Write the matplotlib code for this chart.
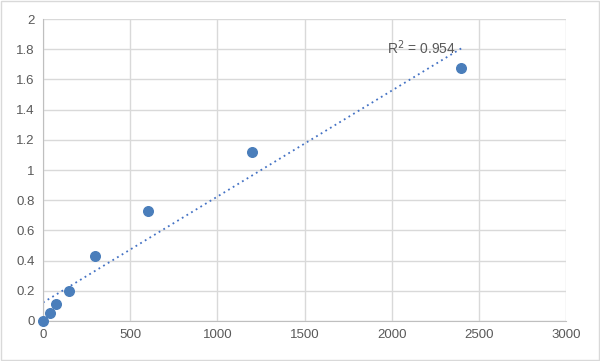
import numpy as np
import matplotlib
matplotlib.use("Agg")
import matplotlib.pyplot as plt

# concentration vs OD readings
conc = [0, 37.5, 75, 150, 300, 600, 1200, 2400]
od = [0.0, 0.053, 0.11, 0.20, 0.43, 0.73, 1.12, 1.675]

plt.rcParams['font.family'] = ['Liberation Sans', 'DejaVu Sans']

fig = plt.figure(figsize=(6, 3.61), dpi=100)
ax = fig.add_axes([0.0717, 0.111, 0.8716, 0.836])

# linear trendline and R^2
x = np.array(conc)
y = np.array(od)
slope, intercept = np.polyfit(x, y, 1)
pred = slope * x + intercept
r2 = 1 - np.sum((y - pred) ** 2) / np.sum((y - y.mean()) ** 2)

xt = np.array([0, 2400])
ax.plot(xt, slope * xt + intercept, ls=(0, (1, 2)), color='#4472C4', lw=1.3, zorder=2)
ax.scatter(conc, od, s=48, color='#4A7EBB', zorder=3, clip_on=False)
ax.text(2370, 1.81, "R$^2$ = %.3f" % r2, ha='right', va='center', fontsize=10, color='#595959')

ax.set_xlim(0, 3000)
ax.set_ylim(0, 2)
ax.set_xticks(np.arange(0, 3001, 500))
ax.set_yticks(np.arange(0, 2.01, 0.2))
ax.set_yticklabels(['0', '0.2', '0.4', '0.6', '0.8', '1', '1.2', '1.4', '1.6', '1.8', '2'])
ax.grid(True, color='#D9D9D9', lw=1)
ax.set_axisbelow(True)
for s in ['top', 'right']:
    ax.spines[s].set_visible(False)
for s in ['left', 'bottom']:
    ax.spines[s].set_color('#BFBFBF')
ax.tick_params(length=0, labelsize=9.5, labelcolor='#595959', pad=6)

# outer chart border
fig.patches.append(plt.Rectangle((0.002, 0.003), 0.996, 0.994, transform=fig.transFigure,
                                 fill=False, edgecolor='#D9D9D9', lw=1))

fig.savefig("out.png", dpi=100)
